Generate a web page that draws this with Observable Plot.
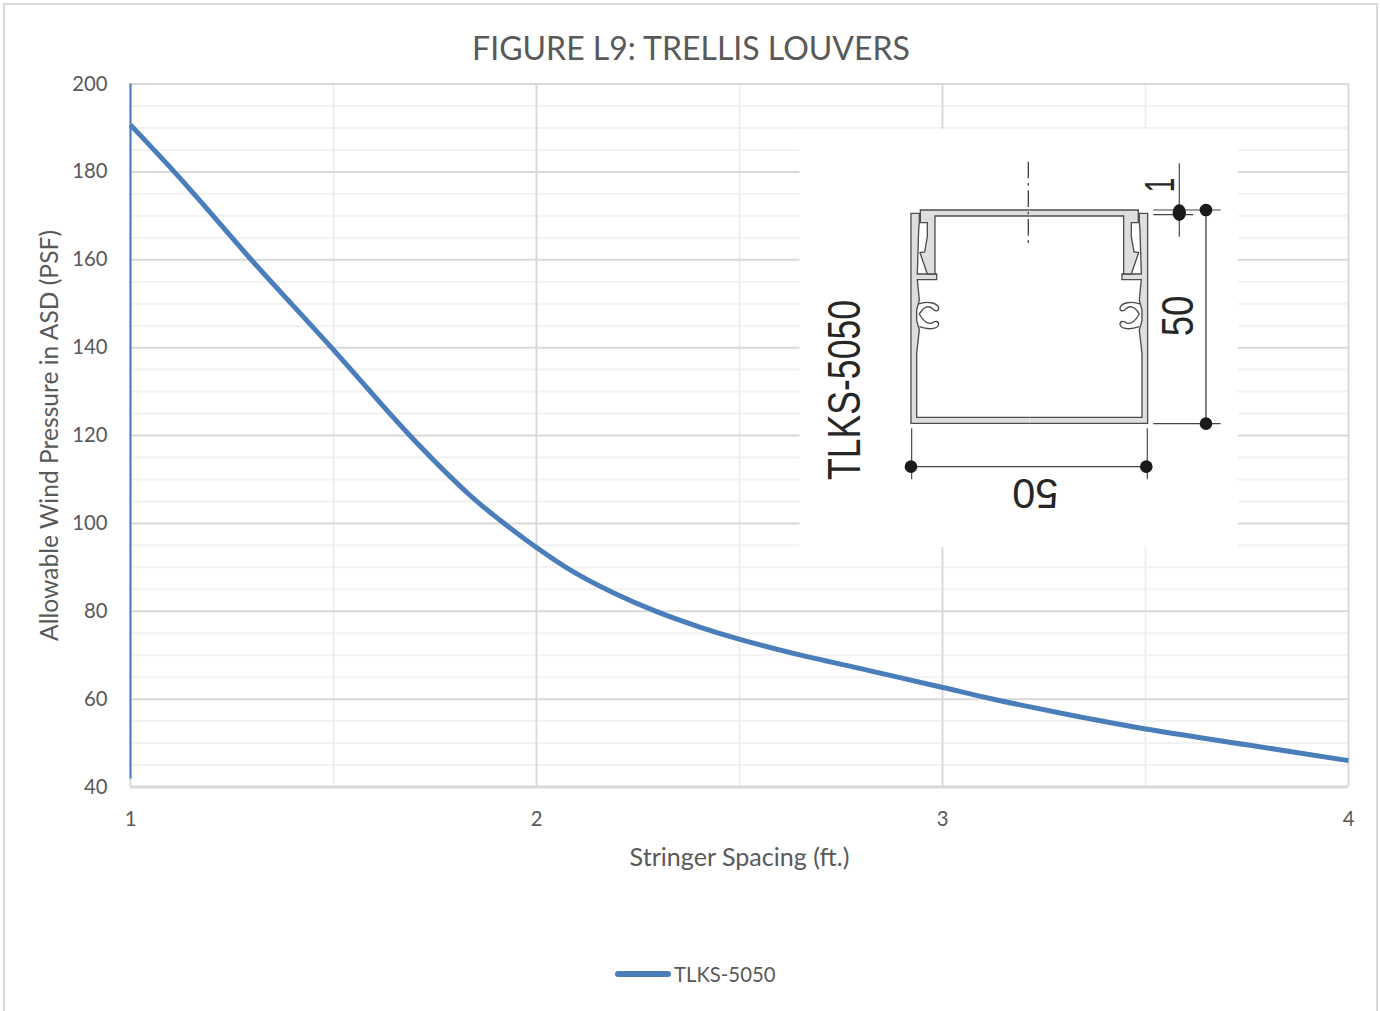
<!DOCTYPE html>
<html><head><meta charset="utf-8">
<script src="https://cdn.jsdelivr.net/npm/d3@7"></script>
<script src="https://cdn.jsdelivr.net/npm/@observablehq/plot@0.6"></script>
<style>
html,body{margin:0;padding:0;background:#fff;overflow:hidden;width:1380px;height:1011px}
#wrap{position:relative;width:1380px;height:1011px;overflow:hidden;font-family:Lato,sans-serif;color:#595959}
#frame{position:absolute;left:3px;top:3px;width:1375px;height:1100px;border:2px solid #d9d9d9;box-sizing:border-box;pointer-events:none}
#title{position:absolute;left:0;width:1382px;top:29px;text-align:center;font-size:32px;line-height:38px;white-space:nowrap}
#legend{position:absolute;left:615px;top:961px;height:26px;display:flex;align-items:center;font-size:20.3px}
#legend i{display:block;width:56px;height:6px;border-radius:3px;background:#4a7ebb;margin-right:3px}
svg{position:absolute;left:0;top:0}
svg g[aria-label="x-axis label"] text{font-size:25.1px}
svg g[aria-label="y-axis label"] text{font-size:24.6px}
</style></head><body>
<div id="wrap"><div id="frame"></div>
<div id="title">FIGURE L9: TRELLIS LOUVERS</div>
<div id="legend"><i></i><span>TLKS-5050</span></div>
</div>
<script>
const titleText = "FIGURE L9: TRELLIS LOUVERS";
const seriesName = "TLKS-5050";
const spacing = [1, 1.108, 1.178, 1.2975, 1.495, 1.688, 1.836, 1.912, 2, 2.09, 2.189, 2.296, 2.402, 2.501, 2.633, 2.814, 2.998, 3.12, 3.228, 3.364, 3.5, 3.75, 4];
const pressure = [190.7, 180, 172.7, 160, 140, 120, 106.4, 100.6, 94.5, 89, 84.2, 79.9, 76.4, 73.6, 70.4, 66.6, 62.7, 60.1, 58, 55.5, 53.2, 49.6, 46];
const xMajor = [1, 2, 3, 4];
const xMinor = [1.5, 2.5, 3.5];
const yMajor = [40, 60, 80, 100, 120, 140, 160, 180, 200];
const yMinor = d3.range(40, 201, 5).filter(v => v % 20 !== 0);
const data = spacing.map((x, i) => ({x, y: pressure[i]}));

// Inset picture: the TLKS-5050 profile drawing, in its own picture coordinates.
function inset() {
  const g = d3.create("svg:g").attr("transform", "translate(800,130) scale(0.3333)");
  const drawHalf = sel => {
    sel.append("path").attr("fill", "#dedede").attr("stroke", "#4d4d4d").attr("stroke-width", 4)
      .attr("d", "M688,862H350V670L358,600L350,572V540L358,510L352,449H410V432H352L354,365L356,300L358,275V250H333V880H688");
    sel.append("path").attr("fill", "#dedede").attr("stroke", "#4d4d4d").attr("stroke-width", 4)
      .attr("d", "M688,258H405V432H382L360,368L374,366L382,320V278H361V240H688");
    sel.append("path").attr("fill", "none").attr("stroke", "#4d4d4d").attr("stroke-width", 4)
      .attr("d", "M356,522C380,512 412,518 416,534C416,546 404,545 398,536C385,525 372,530 358,552C368,570 382,582 395,580C404,572 416,572 416,584C412,598 385,600 358,590");
  };
  drawHalf(g.append("g"));
  drawHalf(g.append("g").attr("transform", "translate(1376,0) scale(-1,1)"));
  const line = (x1, y1, x2, y2, w = 3.5, dash = null) => g.append("line")
    .attr("x1", x1).attr("y1", y1).attr("x2", x2).attr("y2", y2)
    .attr("stroke", "#444").attr("stroke-width", w).attr("stroke-dasharray", dash);
  line(685, 95, 685, 350, 4, "50,14,8,14");
  line(1218, 240, 1218, 880, 4);
  line(1060, 240, 1262, 240);
  line(1060, 881, 1262, 881);
  line(1060, 254, 1180, 254);
  line(1138, 100, 1138, 320);
  line(335, 895, 335, 1048);
  line(1042, 895, 1042, 1048);
  line(333, 1010, 1040, 1010, 4);
  [[1218, 240, 19, 19], [1218, 881, 19, 19], [1138, 248, 20, 25], [333, 1010, 19, 19], [1039, 1010, 19, 19]]
    .forEach(([cx, cy, rx, ry]) => g.append("ellipse").attr("cx", cx).attr("cy", cy).attr("rx", rx).attr("ry", ry).attr("fill", "#1a1a1a"));
  const txt = (t, tr, len, size) => g.append("text").text(t).attr("transform", tr)
    .attr("font-family", "Liberation Sans").attr("font-size", size).attr("fill", "#262626")
    .attr("text-anchor", "middle").attr("textLength", len).attr("lengthAdjust", "spacingAndGlyphs");
  txt(seriesName, "translate(179,780) rotate(-90)", 540, 138);
  txt("50", "translate(1178,558) rotate(-90)", 122, 134);
  txt("50", "translate(706,1047) rotate(180)", 138, 125);
  txt("1", "translate(1121,165) rotate(-90)", 44, 130);
  return g.node();
}

const plot = Plot.plot({
  width: 1380, height: 1011,
  marginLeft: 130, marginRight: 32, marginTop: 83.5, marginBottom: 224.5,
  style: {fontFamily: "Lato, sans-serif", fontSize: "20.3px", color: "#595959", background: "transparent"},
  x: {domain: [1, 4]},
  y: {domain: [40, 200]},
  marks: [
    Plot.ruleY(yMinor, {stroke: "#f2f2f2", strokeWidth: 2}),
    Plot.ruleX(xMinor, {stroke: "#efefef", strokeWidth: 2}),
    Plot.ruleX(xMajor, {stroke: "#d9d9d9", strokeWidth: 2}),
    Plot.ruleY(yMajor, {stroke: "#d9d9d9", strokeWidth: 2}),
    Plot.ruleY([40], {stroke: "#d9d9d9", strokeWidth: 3}),
    Plot.rect([{x1: 2.649, x2: 3.729, y1: 94.5, y2: 189.7}], {x1: "x1", x2: "x2", y1: "y1", y2: "y2", fill: "#fff"}),
    inset,
    Plot.ruleX([1], {y1: 41.8, y2: 200, stroke: "#4a7ebb", strokeWidth: 2}),
    Plot.line(data, {x: "x", y: "y", curve: "catmull-rom", stroke: "#4a7ebb", strokeWidth: 5, strokeLinecap: "butt"}),
    Plot.axisX({ticks: xMajor, tickSize: 0, tickPadding: 25, tickFormat: d3.format("d"), label: "Stringer Spacing (ft.)", labelAnchor: "center", labelArrow: "none", labelOffset: 79}),
    Plot.axisY({ticks: yMajor, tickSize: 0, tickPadding: 23, label: "Allowable Wind Pressure in ASD (PSF)", labelAnchor: "center", labelArrow: "none", labelOffset: 90})
  ]
});
document.getElementById("wrap").appendChild(plot);
</script>
</body></html>
